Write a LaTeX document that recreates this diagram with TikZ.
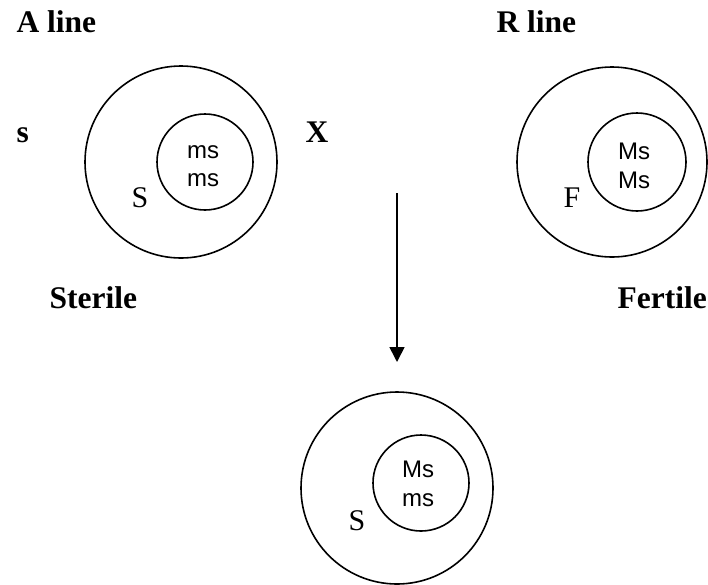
\documentclass[tikz,border=0pt]{standalone}
\usepackage{fontspec}
\setmainfont{Liberation Serif}
\setsansfont{Liberation Sans}
\usetikzlibrary{arrows.meta}

\begin{document}
\begin{tikzpicture}[x=1pt,y=-1pt,
	ring/.style={draw,circle,line width=1.6pt,inner sep=0pt,minimum size=#1},
	title/.style={anchor=base west,font=\fontsize{31.5}{36}\selectfont\bfseries},
	cyto/.style={anchor=base west,font=\fontsize{30}{34}\selectfont},
	gene/.style={align=center,font=\fontsize{24}{28.5}\selectfont\sffamily}]
	\useasboundingbox (0,0) rectangle (708,584);
	\node[title] (Aline) at (13,32) {A line};
	\node[title] (Rline) at (493,32) {R line};
	\node[title] (cross1) at (13,142) {s};
	\node[title] (cross2) at (302,142) {X};
	\node[title] (Ster) at (46,308) {Sterile};
	\node[title] (Fert) at (614,308) {Fertile};
	\node[ring=192pt] (Aouter) at (181,162) {};
	\node[ring=96pt] (Ainner) at (205,162) {};
	\node[gene] (Agenes) at (203,166) {ms\\ms};
	\node[cyto] (Acyto) at (128,207) {S};
	\node[ring=190pt] (Router) at (612,162) {};
	\node[ring=98pt] (Rinner) at (637,162) {};
	\node[gene] (Rgenes) at (634,166) {Ms\\Ms};
	\node[cyto] (Rcyto) at (560,207) {F};
	\node[ring=192pt] (Fouter) at (397,488) {};
	\node[ring=96pt] (Finner) at (421,483) {};
	\node[gene] (Fgenes) at (418,484) {Ms\\ms};
	\node[cyto] (Fcyto) at (345,530) {S};
	\coordinate (crosstop) at (397,193);
	\coordinate (crossbot) at (397,362);
	\draw[line width=1.6pt,-{Triangle[width=15pt,length=15pt]}] (crosstop) -- (crossbot);
\end{tikzpicture}
\end{document}
